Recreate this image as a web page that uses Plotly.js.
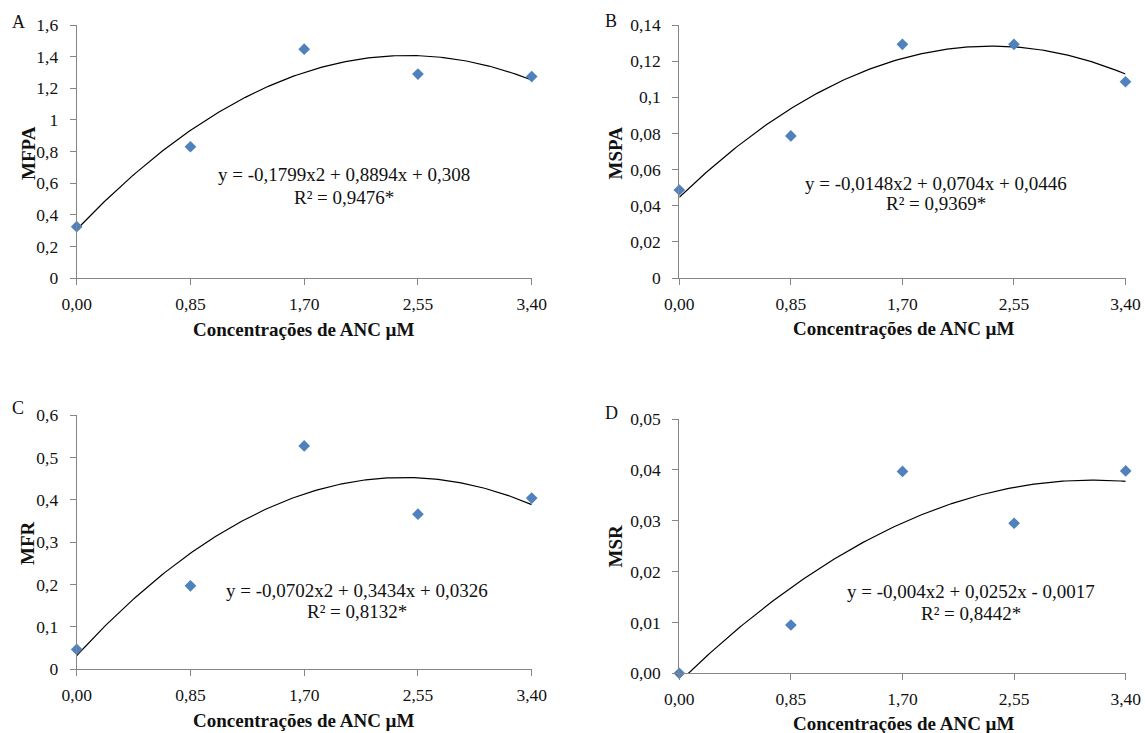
<!DOCTYPE html>
<html>
<head>
<meta charset="utf-8">
<script src="https://cdn.plot.ly/plotly-3.0.1.min.js"></script>
<style>html,body{margin:0;padding:0;background:#fff;}#chart{width:1145px;height:733px;}</style>
</head>
<body>
<div id="chart"></div>
<script>
// ---- DATA ----
const concentrations = [0, 0.85, 1.70, 2.55, 3.40];
const xTickText = ['0,00', '0,85', '1,70', '2,55', '3,40'];

const mfpa = [0.326, 0.831, 1.447, 1.290, 1.274];
const mspa = [0.0487, 0.0786, 0.1293, 0.1293, 0.1086];
const mfr  = [0.047, 0.197, 0.527, 0.366, 0.404];
const msr  = [0.0, 0.0095, 0.0397, 0.0295, 0.0398];

// quadratic trendline coefficients [a, b, c] for y = a x^2 + b x + c
const coefA = [-0.1799, 0.8894, 0.308];
const coefB = [-0.0148, 0.0704, 0.0446];
const coefC = [-0.0702, 0.3434, 0.0326];
const coefD = [-0.004, 0.0252, -0.0017];

const eqA = ['y = -0,1799x2 + 0,8894x + 0,308', 'R² = 0,9476*'];
const eqB = ['y = -0,0148x2 + 0,0704x + 0,0446', 'R² = 0,9369*'];
const eqC = ['y = -0,0702x2 + 0,3434x + 0,0326', 'R² = 0,8132*'];
const eqD = ['y = -0,004x2 + 0,0252x - 0,0017', 'R² = 0,8442*'];

const yTickValsA = [0, 0.2, 0.4, 0.6, 0.8, 1.0, 1.2, 1.4, 1.6];
const yTickTextA = ['0', '0,2', '0,4', '0,6', '0,8', '1', '1,2', '1,4', '1,6'];
const yTickValsB = [0, 0.02, 0.04, 0.06, 0.08, 0.10, 0.12, 0.14];
const yTickTextB = ['0', '0,02', '0,04', '0,06', '0,08', '0,1', '0,12', '0,14'];
const yTickValsC = [0, 0.1, 0.2, 0.3, 0.4, 0.5, 0.6];
const yTickTextC = ['0', '0,1', '0,2', '0,3', '0,4', '0,5', '0,6'];
const yTickValsD = [0, 0.01, 0.02, 0.03, 0.04, 0.05];
const yTickTextD = ['0,00', '0,01', '0,02', '0,03', '0,04', '0,05'];

const yTitles = ['MFPA', 'MSPA', 'MFR', 'MSR'];
const panelLetters = ['A', 'B', 'C', 'D'];
const xTitle = 'Concentrações de ANC µM';

// ---- LAYOUT HELPERS ----
const W = 1145, H = 733;
const px = v => v / W;
const py = v => 1 - v / H;
const FONT = 'Liberation Serif, Times New Roman, serif';
const TXT = '#111';
const AX = '#868686';
const MARK = '#4F81BD';

function trend(coef) {
  const xs = [], ys = [];
  for (let i = 0; i <= 170; i++) {
    const x = 3.4 * i / 170;
    xs.push(x);
    ys.push(coef[0] * x * x + coef[1] * x + coef[2]);
  }
  return {xs, ys};
}

const panels = [
  {ys: mfpa, coef: coefA, eq: eqA, tv: yTickValsA, tt: yTickTextA, yr: [0, 1.6],
   box: [76.7, 531.7, 25, 278.3], eqPos: [343.5, 175, 197.5], letter: [18, 22], ytitle: [28, 153], xtitle: [304, 329]},
  {ys: mspa, coef: coefB, eq: eqB, tv: yTickValsB, tt: yTickTextB, yr: [0, 0.14],
   box: [679.3, 1125.5, 25, 278], eqPos: [936, 183, 204], letter: [611, 21], ytitle: [615, 153.5], xtitle: [904, 328]},
  {ys: mfr, coef: coefC, eq: eqC, tv: yTickValsC, tt: yTickTextC, yr: [0, 0.6],
   box: [76.7, 531.7, 415, 669.3], eqPos: [356.5, 590, 611], letter: [18, 408], ytitle: [27, 543], xtitle: [304, 720]},
  {ys: msr, coef: coefD, eq: eqD, tv: yTickValsD, tt: yTickTextD, yr: [0, 0.05],
   box: [679.3, 1125.7, 419, 673.3], eqPos: [970.5, 591.5, 613], letter: [611.5, 413], ytitle: [615, 546.5], xtitle: [904, 723]}
];

const data = [];
const layout = {
  width: W, height: H,
  margin: {l: 0, r: 0, t: 0, b: 0},
  paper_bgcolor: '#fff', plot_bgcolor: 'rgba(0,0,0,0)',
  showlegend: false,
  font: {family: FONT, color: TXT, size: 17.5},
  annotations: []
};

panels.forEach((p, i) => {
  const n = i === 0 ? '' : String(i + 1);
  const xa = 'x' + n, ya = 'y' + n;
  const t = trend(p.coef);
  data.push({x: t.xs, y: t.ys, xaxis: xa, yaxis: ya, type: 'scatter', mode: 'lines',
             line: {color: '#000', width: 1.2}, hoverinfo: 'skip'});
  data.push({x: concentrations, y: p.ys, xaxis: xa, yaxis: ya, type: 'scatter', mode: 'markers',
             marker: {symbol: 'diamond', size: 9, color: MARK}, cliponaxis: false});
  const [x0, x1, yt, yb] = p.box;
  layout['xaxis' + n] = {
    domain: [px(x0), px(x1)], anchor: ya, range: [0, 3.4],
    tickvals: concentrations, ticktext: xTickText,
    showline: true, linecolor: AX, linewidth: 1, ticks: 'outside', ticklen: 6, tickcolor: AX,
    showgrid: false, zeroline: false, tickfont: {family: FONT, size: 17.5, color: TXT},
    ticklabelstandoff: 4, fixedrange: true
  };
  layout['yaxis' + n] = {
    domain: [py(yb), py(yt)], anchor: xa, range: p.yr,
    tickvals: p.tv, ticktext: p.tt,
    showline: true, linecolor: AX, linewidth: 1, ticks: 'outside', ticklen: 6, tickcolor: AX,
    showgrid: false, zeroline: false, tickfont: {family: FONT, size: 17.5, color: TXT},
    ticklabelstandoff: 8, fixedrange: true
  };
  const A = layout.annotations;
  A.push({xref: 'paper', yref: 'paper', x: px(p.eqPos[0]), y: py(p.eqPos[1]), xanchor: 'center', yanchor: 'middle',
          text: p.eq[0], showarrow: false, font: {family: FONT, size: 19, color: TXT}});
  A.push({xref: 'paper', yref: 'paper', x: px(p.eqPos[0]), y: py(p.eqPos[2]), xanchor: 'center', yanchor: 'middle',
          text: p.eq[1], showarrow: false, font: {family: FONT, size: 19, color: TXT}});
  A.push({xref: 'paper', yref: 'paper', x: px(p.letter[0]), y: py(p.letter[1]), xanchor: 'center', yanchor: 'middle',
          text: panelLetters[i], showarrow: false, font: {family: FONT, size: 18, color: TXT}});
  A.push({xref: 'paper', yref: 'paper', x: px(p.ytitle[0]), y: py(p.ytitle[1]), xanchor: 'center', yanchor: 'middle',
          text: '<b>' + yTitles[i] + '</b>', textangle: -90, showarrow: false, font: {family: FONT, size: 19, color: TXT}});
  A.push({xref: 'paper', yref: 'paper', x: px(p.xtitle[0]), y: py(p.xtitle[1]), xanchor: 'center', yanchor: 'middle',
          text: '<b>' + xTitle + '</b>', showarrow: false, font: {family: FONT, size: 19, color: TXT}});
});

Plotly.newPlot('chart', data, layout, {displayModeBar: false, staticPlot: true});
</script>
</body>
</html>
